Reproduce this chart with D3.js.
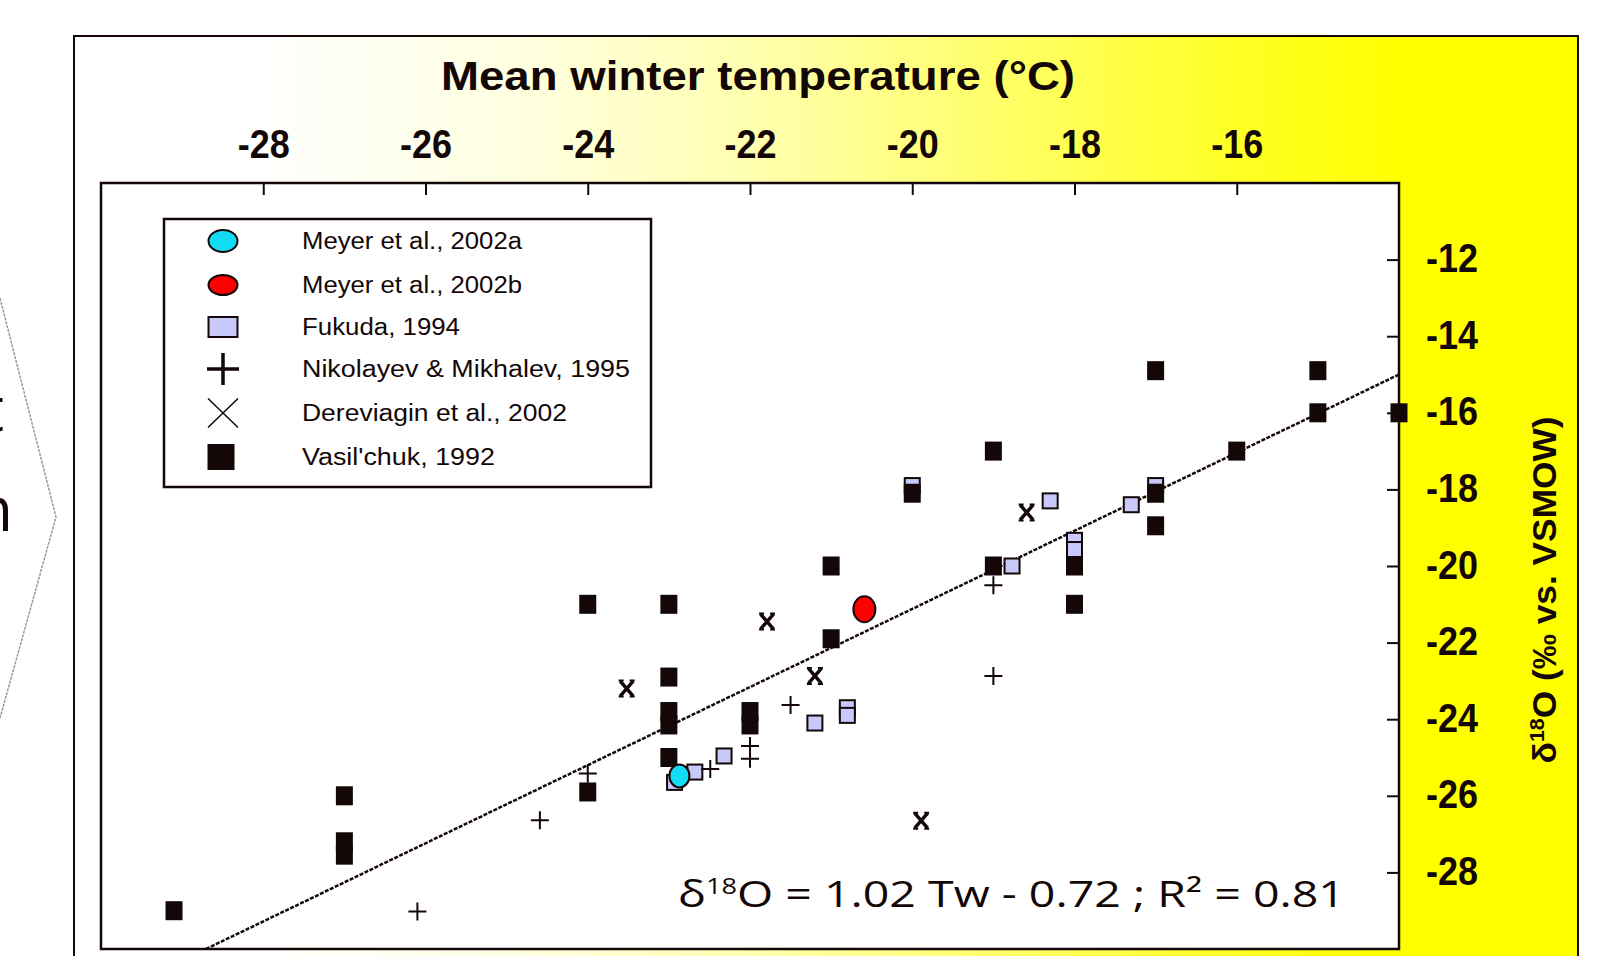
<!DOCTYPE html>
<html>
<head>
<meta charset="utf-8">
<script src="https://cdnjs.cloudflare.com/ajax/libs/d3/7.8.5/d3.min.js"></script>
<style>
	body { margin: 0; background: #fff; }
	svg { display: block; }
</style>
</head>
<body>
<svg id="chart"></svg>
<script>
const w = 1610
const h = 956

// data: Tw = mean winter temperature, d18O = ice wedge value
const meyerA_T = [-22.87]
const meyerA_D = [-25.48]
const meyerB_T = [-20.59]
const meyerB_D = [-21.13]
const fukuda_T = [-20.0, -17.0, -18.3, -18.0, -18.0, -18.77, -17.3, -20.8, -20.8, -21.2, -22.32, -22.68, -22.93]
const fukuda_D = [-17.9, -17.9, -18.3, -19.33, -19.57, -20.0, -18.4, -23.7, -23.9, -24.1, -24.96, -25.38, -25.65]
const nikol_T = [-26.1, -24.59, -24.0, -22.49, -22.0, -22.0, -21.5, -19.0, -19.0]
const nikol_D = [-29.02, -26.64, -25.42, -25.3, -24.7, -25.03, -23.63, -20.5, -22.87]
const derev_T = [-23.52, -21.79, -21.2, -19.89, -18.59]
const derev_D = [-23.2, -21.45, -22.87, -26.65, -18.6]
const vasil_T = [-29.1, -27.0, -27.0, -27.0, -24.0, -24.0, -23.0, -23.0, -23.0, -23.0, -23.0, -22.0, -22.0, -21.0, -21.0, -20.0, -19.0, -19.0, -18.0, -18.0, -17.0, -17.0, -17.0, -16.0, -15.0, -15.0, -14.0]
const vasil_D = [-29.0, -26.0, -27.2, -27.55, -21.0, -25.9, -21.0, -22.9, -23.8, -24.15, -25.0, -23.8, -24.15, -20.0, -21.9, -18.1, -17.0, -20.0, -20.0, -21.0, -14.9, -18.1, -18.95, -17.0, -14.9, -16.0, -16.0]

// regression given in the figure
const fit_slope = 1.02
const fit_intercept = -0.72
const fit_label = 'δ18O = 1.02 Tw - 0.72 ; R² = 0.81'

const x_ticks = [-28, -26, -24, -22, -20, -18, -16]
const y_ticks = [-28, -26, -24, -22, -20, -18, -16, -14, -12]
const legend_names = ['Meyer et al., 2002a', 'Meyer et al., 2002b', 'Fukuda, 1994', 'Nikolayev & Mikhalev, 1995', 'Dereviagin et al., 2002', "Vasil'chuk, 1992"]
const x_title = 'Mean winter temperature (°C)'

const ink = '#140707'
const plot = { left: 101, top: 183, right: 1399, bottom: 949 }

const SVG = d3.select('#chart').attr('width', w).attr('height', h)

let xScale = d3.scaleLinear().domain([-30, -14]).range([plot.left, plot.right])
let yScale = d3.scaleLinear().domain([-10, -30]).range([plot.top, plot.bottom])

// background gradient white -> yellow
let defs = SVG.append('defs')
let grad = defs.append('linearGradient').attr('id', 'bg')
	.attr('gradientUnits', 'userSpaceOnUse')
	.attr('x1', 74).attr('x2', 1578).attr('y1', 0).attr('y2', 0)
const stops = [[0, '#ffffff'], [0.12, '#ffffff'], [0.3, '#ffffe0'], [0.45, '#ffffb0'], [0.62, '#ffff66'], [0.76, '#ffff2a'], [0.88, '#ffff00'], [1, '#ffff00']]
stops.forEach(s => grad.append('stop').attr('offset', s[0]).attr('stop-color', s[1]))

// stuff cut off at the left edge of the slide (it is cut in the original too)
SVG.append('polyline')
	.attr('points', '0,298 56,517 0,718')
	.attr('fill', 'none').attr('stroke', '#9a9a9a').attr('stroke-width', 1.5)
	.attr('stroke-dasharray', '3,1')
SVG.append('text').attr('x', 4).attr('y', 431).attr('text-anchor', 'end')
	.attr('font-family', 'Open Sans').attr('font-size', 62).attr('fill', ink).text('t')
SVG.append('text').attr('x', 13).attr('y', 531).attr('text-anchor', 'end')
	.attr('font-family', 'Open Sans').attr('font-size', 62).attr('fill', ink).text('n')

// outer frame
SVG.append('rect')
	.attr('x', 74).attr('y', 36).attr('width', 1504).attr('height', 940)
	.attr('fill', 'url(#bg)').attr('stroke', ink).attr('stroke-width', 2)

// plot area
SVG.append('rect')
	.attr('x', plot.left).attr('y', plot.top)
	.attr('width', plot.right - plot.left).attr('height', plot.bottom - plot.top)
	.attr('fill', '#fff').attr('stroke', ink).attr('stroke-width', 2.5)

// axes (ticks pointing into the plot), plain hyphen as in the original
const fmt = d => String(d)
let xAxis = SVG.append('g')
	.attr('transform', `translate(0, ${plot.top})`)
	.call(d3.axisTop(xScale).tickValues(x_ticks).tickFormat(fmt).tickSizeInner(-12).tickSizeOuter(0).tickPadding(25))
let yAxis = SVG.append('g')
	.attr('transform', `translate(${plot.right}, 0)`)
	.call(d3.axisRight(yScale).tickValues(y_ticks).tickFormat(fmt).tickSizeInner(-12).tickSizeOuter(0).tickPadding(27))
	
;[xAxis, yAxis].forEach(ax => {
	ax.select('.domain').remove()
	ax.selectAll('line').attr('stroke', ink).attr('stroke-width', 2)
	ax.selectAll('text')
		.attr('font-family', 'Liberation Sans, Arial, sans-serif')
		.attr('font-weight', 'bold')
		.attr('font-size', 40)
		.attr('fill', ink)
		.attr('textLength', 52)
		.attr('lengthAdjust', 'spacingAndGlyphs')
})
yAxis.selectAll('text').attr('dy', '0.3em')

// titles
SVG.append('text')
	.attr('x', 758).attr('y', 90)
	.attr('text-anchor', 'middle')
	.attr('font-family', 'Liberation Sans, Arial, sans-serif')
	.attr('font-weight', 'bold').attr('font-size', 40)
	.attr('textLength', 634).attr('lengthAdjust', 'spacingAndGlyphs')
	.attr('fill', ink)
	.text(x_title)

let ytitle = SVG.append('text')
	.attr('transform', 'translate(1556, 590) rotate(-90)')
	.attr('text-anchor', 'middle')
	.attr('font-family', 'Liberation Sans, Arial, sans-serif')
	.attr('font-weight', 'bold').attr('font-size', 33)
	.attr('textLength', 347).attr('lengthAdjust', 'spacingAndGlyphs')
	.attr('fill', ink)
ytitle.append('tspan').text('δ')
ytitle.append('tspan').attr('font-size', 20).attr('dy', -12).text('18')
ytitle.append('tspan').attr('dy', 12).text('O (‰ vs. VSMOW)')

// regression line, from the bottom of the plot to the right edge
let fx0 = (-30 - fit_intercept) / fit_slope
let fx1 = -14
SVG.append('line')
	.attr('x1', xScale(fx0)).attr('y1', yScale(fit_slope * fx0 + fit_intercept))
	.attr('x2', xScale(fx1)).attr('y2', yScale(fit_slope * fx1 + fit_intercept))
	.attr('stroke', ink).attr('stroke-width', 2.5)
	.attr('stroke-dasharray', '4,1.5')

function zip(a, b) { return a.map((v, i) => ({ t: v, d: b[i] })) }

// marker drawers, cx cy are pixel centres
function draw_square(g, cx, cy, sw, sh, fill, stroke, lw) {
	g.append('rect')
		.attr('x', cx - sw / 2).attr('y', cy - sh / 2)
		.attr('width', sw).attr('height', sh)
		.attr('fill', fill)
		.attr('stroke', stroke).attr('stroke-width', lw)
}
function draw_plus(g, cx, cy, s, lw) {
	g.append('path')
		.attr('d', `M${cx - s / 2},${cy}H${cx + s / 2}M${cx},${cy - s / 2}V${cy + s / 2}`)
		.attr('stroke', ink).attr('stroke-width', lw).attr('fill', 'none')
}
function draw_x(g, cx, cy, sx, sy, lw) {
	g.append('path')
		.attr('d', `M${cx - sx / 2},${cy - sy / 2}L${cx + sx / 2},${cy + sy / 2}M${cx + sx / 2},${cy - sy / 2}L${cx - sx / 2},${cy + sy / 2}`)
		.attr('stroke', ink).attr('stroke-width', lw).attr('fill', 'none')
}
function draw_bold_x(g, cx, cy) {
	draw_x(g, cx, cy, 13, 15, 3.5)
	// little flat caps at the ends
	g.append('path')
		.attr('d', `M${cx - 8},${cy - 8}h5M${cx + 3},${cy - 8}h5M${cx - 8},${cy + 8}h5M${cx + 3},${cy + 8}h5`)
		.attr('stroke', ink).attr('stroke-width', 2).attr('fill', 'none')
}
function draw_ellipse(g, cx, cy, rx, ry, fill) {
	g.append('ellipse')
		.attr('cx', cx).attr('cy', cy).attr('rx', rx).attr('ry', ry)
		.attr('fill', fill).attr('stroke', ink).attr('stroke-width', 2)
}

let marks = SVG.append('g')

zip(fukuda_T, fukuda_D).forEach(p => draw_square(marks, xScale(p.t), yScale(p.d), 15, 15, '#c8c8fa', ink, 2))
zip(vasil_T, vasil_D).forEach(p => draw_square(marks, xScale(p.t), yScale(p.d), 17, 19, ink, 'none', 0))
zip(nikol_T, nikol_D).forEach(p => draw_plus(marks, xScale(p.t), yScale(p.d), 18, 2))
zip(derev_T, derev_D).forEach(p => draw_bold_x(marks, xScale(p.t), yScale(p.d)))
zip(meyerA_T, meyerA_D).forEach(p => draw_ellipse(marks, xScale(p.t), yScale(p.d), 10, 11.5, '#12dcf4'))
zip(meyerB_T, meyerB_D).forEach(p => draw_ellipse(marks, xScale(p.t), yScale(p.d), 11, 13, '#ff0000'))

// legend
let legend = SVG.append('g')
legend.append('rect')
	.attr('x', 164).attr('y', 219).attr('width', 487).attr('height', 268)
	.attr('fill', '#fff').attr('stroke', ink).attr('stroke-width', 2.5)

const leg_y = [241, 285, 327, 369, 413, 457]
const leg_len = [220, 220, 158, 328, 265, 193]
const sx = 223
draw_ellipse(legend, sx, leg_y[0], 14.5, 11, '#12dcf4')
draw_ellipse(legend, sx, leg_y[1], 14.5, 10, '#ff0000')
draw_square(legend, sx, leg_y[2], 29, 20, '#c8c8fa', ink, 2)
draw_plus(legend, sx, leg_y[3], 32, 3.5)
draw_x(legend, sx, leg_y[4], 30, 29, 1.5)
draw_square(legend, sx - 2, leg_y[5], 27, 26, ink, 'none', 0)

legend.selectAll('.leg_text').data(legend_names).enter().append('text')
	.attr('class', 'leg_text')
	.attr('x', 302)
	.attr('y', (d, i) => leg_y[i] + 8)
	.attr('font-family', 'Liberation Sans, Arial, sans-serif')
	.attr('font-size', 23)
	.attr('fill', ink)
	.attr('textLength', (d, i) => leg_len[i])
	.attr('lengthAdjust', 'spacingAndGlyphs')
	.text(d => d)

// equation
let eq = SVG.append('text')
	.attr('x', 678).attr('y', 907)
	.attr('font-family', 'Open Sans, sans-serif')
	.attr('font-size', 36)
	.attr('fill', ink)
	.attr('textLength', 667).attr('lengthAdjust', 'spacingAndGlyphs')
eq.append('tspan').text('δ')
eq.append('tspan').attr('font-size', 21).attr('dy', -13).text('18')
eq.append('tspan').attr('dy', 13).text(fit_label.replace('δ18', ''))
</script>
</body>
</html>
